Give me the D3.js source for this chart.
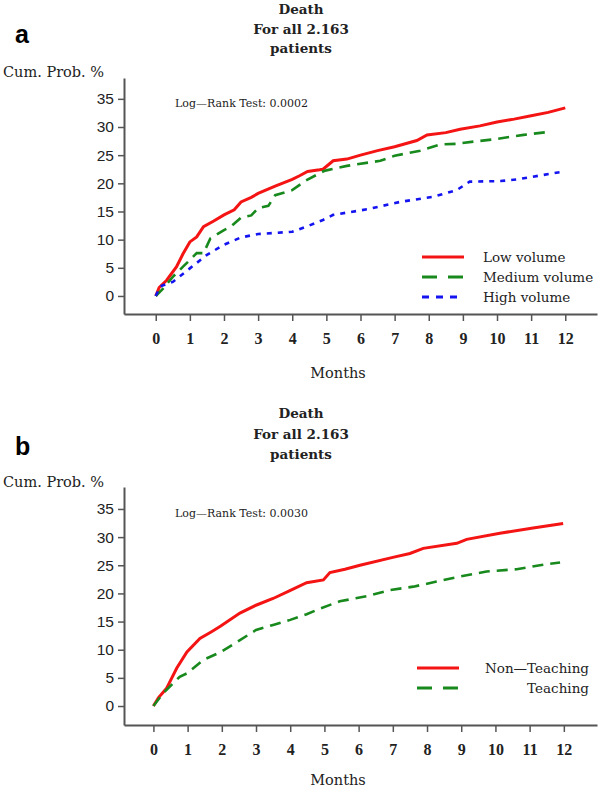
<!DOCTYPE html>
<html><head><meta charset="utf-8">
<script src="https://cdn.jsdelivr.net/npm/d3@7"></script>
<style>
body{margin:0;background:#fff;}
svg text{fill:#222;}
</style></head>
<body><svg id="c" width="600" height="792"></svg>
<script>
// ---- data ----
const monthTicks = [0,1,2,3,4,5,6,7,8,9,10,11,12];
const probTicks = [0,5,10,15,20,25,30,35];
const titleLines = ["Death","For all 2.163","patients"];

const lowMonths = [0,0.1,0.32,0.61,0.8,1,1.2,1.4,1.7,2,2.3,2.5,2.8,3,3.5,4,4.2,4.45,4.8,4.9,5.2,5.6,6,6.5,7,7.65,7.95,8.5,8.92,9.5,10,10.5,11,11.5,12];
const lowValues = [0,1.5,2.8,5.2,7.5,9.6,10.5,12.3,13.3,14.4,15.3,16.7,17.5,18.2,19.5,20.7,21.3,22.1,22.4,22.5,24.0,24.3,25.0,25.8,26.5,27.6,28.6,29.0,29.6,30.2,30.9,31.4,32.0,32.6,33.4];
const medMonths = [0,0.2,0.5,0.8,1,1.2,1.4,1.6,2,2.2,2.5,2.8,3,3.3,3.5,4,4.4,4.9,5,5.6,6.58,7,7.75,8.33,8.8,9.31,9.9,10.78,11.47];
const medValues = [0,1.2,3.4,5.2,6.4,7.6,7.6,10.2,11.7,12.3,13.9,14.3,15.6,16.0,17.9,18.8,20.5,22.1,22.3,23.1,24.0,24.9,25.8,26.9,27.0,27.4,27.8,28.6,29.1];
const highMonths = [0,0.13,0.5,1,1.5,2,2.5,3,3.5,4,4.45,4.9,5.2,6.2,7.16,8.13,8.82,9.2,10.1,10.6,11.27,11.85];
const highValues = [0,1.7,2.5,4.9,7.3,9.1,10.4,11.0,11.2,11.4,12.4,13.5,14.4,15.4,16.7,17.6,18.8,20.3,20.4,20.7,21.4,22.0];

const nonTeachMonths = [0,0.15,0.38,0.68,0.98,1.36,1.7,1.97,2.53,3,3.5,3.99,4.48,4.97,5.16,5.6,6.04,7,7.5,7.89,8.87,9.16,10.13,11.1,11.98];
const nonTeachValues = [0,1.5,3.1,6.7,9.6,12,13.2,14.2,16.5,17.9,19.1,20.5,21.9,22.4,23.7,24.3,25,26.4,27.1,28,28.9,29.6,30.7,31.6,32.4];
const teachMonths = [0,0.29,0.77,0.98,1.46,1.97,2.53,3,3.5,4,4.48,4.87,5.45,6.23,6.92,7.6,8.28,8.96,9.74,10.62,11.3,11.89];
const teachValues = [0,2.3,5.2,5.8,8.2,9.6,11.7,13.5,14.4,15.3,16.3,17.3,18.6,19.5,20.6,21.2,22.1,23.0,23.9,24.3,25.0,25.5];

const panelA = {
  label:"a", logRank:"Log\u2014Rank Test: 0.0002",
  series:[
    {name:"Low volume", m:lowMonths, v:lowValues, color:"#f41414", dash:null, width:3},
    {name:"Medium volume", m:medMonths, v:medValues, color:"#18891c", dash:"11,7", width:2.6},
    {name:"High  volume", m:highMonths, v:highValues, color:"#1414f0", dash:"5,6", width:2.6}
  ]
};
const panelB = {
  label:"b", logRank:"Log\u2014Rank Test: 0.0030",
  series:[
    {name:"Non\u2014Teaching", m:nonTeachMonths, v:nonTeachValues, color:"#f41414", dash:null, width:3},
    {name:"Teaching", m:teachMonths, v:teachValues, color:"#18891c", dash:"11,7", width:2.6}
  ]
};

const svg = d3.select("#c");
const serif = "'DejaVu Serif', serif";

function drawPanel(p, o){
  const g = svg.append("g");
  const x = d3.scaleLinear().domain(o.xDom).range([124,597]);
  const y = d3.scaleLinear().domain(o.yDom).range([o.axisY, o.axisTop]);

  g.append("text").attr("x",15).attr("y",o.labelY).text(p.label)
    .attr("font-family","'Liberation Sans', Arial, sans-serif").attr("font-weight","bold").attr("font-size",25).style("fill","#000");
  titleLines.forEach((t,i)=>{
    g.append("text").attr("x",301).attr("y",o.titleY[i]).attr("text-anchor","middle")
      .attr("font-family",serif).attr("font-weight","bold").attr("font-size",13.5).text(t);
  });
  g.append("text").attr("x",3).attr("y",o.cumY).text("Cum. Prob. %")
    .attr("font-family",serif).attr("font-size",14.5);
  g.append("text").attr("x",175).attr("y",o.lrY).text(p.logRank)
    .attr("font-family",serif).attr("font-size",11);

  const xa = g.append("g").attr("transform",`translate(0,${o.axisY})`)
    .call(d3.axisBottom(x).tickValues(monthTicks).tickSize(7).tickSizeOuter(0).tickPadding(12));
  xa.selectAll("text").attr("font-family","'Liberation Serif', serif").attr("font-weight","bold").attr("font-size",16).style("fill","#222");
  const ya = g.append("g").attr("transform","translate(124,0)")
    .call(d3.axisLeft(y).tickValues(probTicks).tickSize(6).tickSizeOuter(0).tickPadding(4));
  ya.selectAll("text").attr("font-family","'Liberation Sans', Arial, sans-serif").attr("font-size",15.5).style("fill","#222");
  [xa,ya].forEach(a=>{
    a.select(".domain").attr("stroke","#555").attr("stroke-width",2);
    a.selectAll(".tick line").attr("stroke","#555").attr("stroke-width",1.5);
  });

  p.series.forEach(s=>{
    const pts = s.m.map((m,i)=>[m,s.v[i]]);
    g.append("path").datum(pts)
      .attr("d", d3.line().x(d=>x(d[0])).y(d=>y(d[1])))
      .attr("fill","none").attr("stroke",s.color).attr("stroke-width",s.width)
      .attr("stroke-dasharray",s.dash);
  });

  p.series.forEach((s,i)=>{
    const ly = o.legY + i*20;
    g.append("line").attr("x1",o.legX1).attr("x2",o.legX1+42).attr("y1",ly).attr("y2",ly)
      .attr("stroke",s.color).attr("stroke-width",3).attr("stroke-dasharray", s.dash ? (i===1?"15,11":"7,7") : null);
    const t = g.append("text").attr("y",ly+5).text(s.name)
      .attr("font-family",serif).attr("font-size",13.5);
    if(o.legRight){ t.attr("x",589).attr("text-anchor","end"); }
    else { t.attr("x",483); }
  });
}

drawPanel(panelA, {
  xDom:[-0.93,12.93], yDom:[-3.2,38.7], axisY:314, axisTop:78,
  labelY:43, titleY:[14,34,53], cumY:77, lrY:107,
  legX1:422, legY:257, legRight:false
});
drawPanel(panelB, {
  xDom:[-0.86,12.97], yDom:[-3.37,38.9], axisY:725, axisTop:487,
  labelY:455, titleY:[418,439,459], cumY:487, lrY:517,
  legX1:417, legY:668, legRight:true
});

svg.append("text").attr("x",338).attr("y",378).attr("text-anchor","middle").text("Months")
  .attr("font-family",serif).attr("font-size",14.5);
svg.append("text").attr("x",338).attr("y",785).attr("text-anchor","middle").text("Months")
  .attr("font-family",serif).attr("font-size",14.5);
</script>
</body></html>
